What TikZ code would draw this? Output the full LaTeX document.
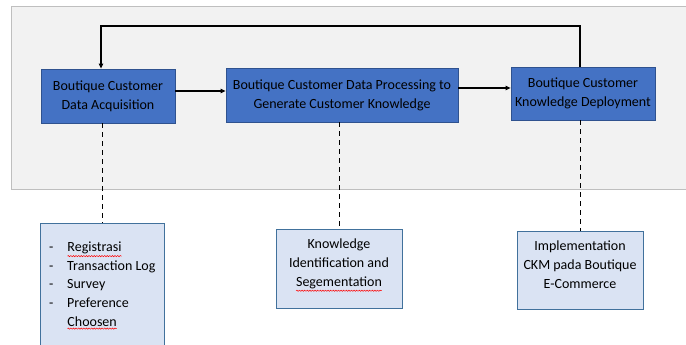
\documentclass[tikz,border=0pt]{standalone}
\usepackage{fontspec}
\setmainfont{Carlito}
\usetikzlibrary{arrows.meta,decorations.pathmorphing}
\definecolor{panelfill}{HTML}{F2F2F2}
\definecolor{panelline}{HTML}{BFBFBF}
\definecolor{bluefill}{HTML}{4472C4}
\definecolor{blueline}{HTML}{2F528F}
\definecolor{lightfill}{HTML}{DAE3F3}
\definecolor{lightline}{HTML}{41719C}
\newcommand\spellerr[1]{\tikz[baseline=(w.base)]{\node[inner sep=0pt,outer sep=0pt,minimum width=0pt,minimum height=0pt,draw=none,fill=none](w){#1};\draw[red,line width=0.5pt,decorate,decoration={snake,amplitude=0.6pt,segment length=2.6pt}] ([yshift=-2.2pt]w.south west)--([yshift=-2.2pt]w.south east);}}
\tikzset{
  txt/.style={font=\fontsize{14}{19}\selectfont,align=center,text=black},
  bluebox/.style={txt,draw=blueline,fill=bluefill,line width=0.8pt,inner sep=0pt},
  lightbox/.style={draw=lightline,fill=lightfill,line width=0.8pt,inner sep=0pt},
  flow/.style={line width=1.1pt,-{Triangle[length=5pt,width=4.5pt]}},
  link/.style={line width=1pt,dashed,dash pattern=on 5pt off 4pt}
}
\begin{document}
\begin{tikzpicture}[x=1pt,y=-1pt]
\useasboundingbox (0,0) rectangle (686,345);
\clip (0,0) rectangle (686,345);
\node[draw=panelline,fill=panelfill,line width=0.8pt,minimum width=690pt,minimum height=183pt,inner sep=0pt] (panel) at (356,97.5) {};
\node[bluebox,minimum width=134pt,minimum height=54pt] (b1) at (108,96) {Boutique Customer\\Data Acquisition};
\node[bluebox,minimum width=232pt,minimum height=54pt] (b2) at (342,95) {Boutique Customer Data Processing to\\Generate Customer Knowledge};
\node[bluebox,minimum width=144pt,minimum height=53pt] (b3) at (583,93.5) {Boutique Customer\\Knowledge Deployment};
\node[lightbox,minimum width=124pt,minimum height=134pt] (d1) at (102,290) {};
\node[txt,align=left,anchor=north west,inner sep=0pt] (d1t) at (49,238) {%
\begin{tabular}{@{}p{12pt}@{\hspace{6pt}}l@{}}
- & \spellerr{Registrasi}\\[-0.3pt]
- & Transaction Log\\[-0.3pt]
- & Survey\\[-0.3pt]
- & Preference\\[-0.3pt]
 & \spellerr{Choosen}
\end{tabular}};
\node[lightbox,minimum width=126pt,minimum height=79pt] (d2) at (339,268.5) {};
\node[txt,inner sep=0pt] (d2t) at (339,265) {Knowledge\\Identification and\\\spellerr{Segementation}};
\node[lightbox,minimum width=126pt,minimum height=78pt] (d3) at (580,270) {};
\node[txt,inner sep=0pt] (d3t) at (580,265) {Implementation\\CKM pada Boutique\\E-Commerce};
\draw[flow] (b1.east |- 0,91) -- (b2.west |- 0,91);
\draw[flow] (b2.east |- 0,88) -- (b3.west |- 0,88);
\coordinate (topR) at (580,26);
\coordinate (topL) at (101,26);
\draw[line width=1.1pt,-{Triangle[length=5pt,width=4.5pt]}] (topR |- b3.north) -- (topR) -- (topL) -- (topL |- b1.north);
\draw[link] (d1.north |- b1.south) -- (d1.north);
\draw[link] (d2.north |- b2.south) -- (d2.north);
\draw[link] (d3.north |- b3.south) -- (d3.north);
\end{tikzpicture}
\end{document}
